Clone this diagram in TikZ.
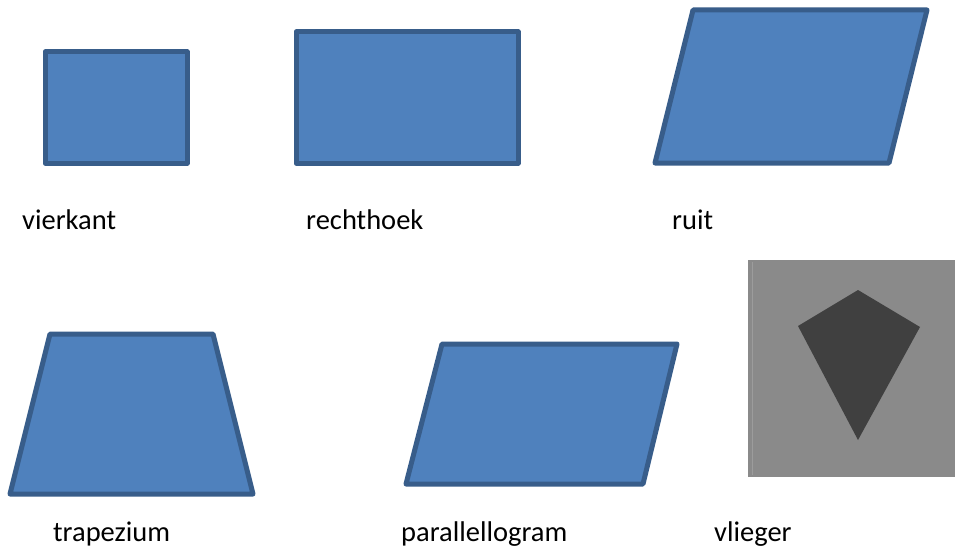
\documentclass[tikz,border=0pt]{standalone}
\usepackage{fontspec}
\setmainfont{Carlito}
\definecolor{shapefill}{HTML}{4F81BD}
\definecolor{shapeline}{HTML}{385D8A}
\definecolor{photobg}{HTML}{8A8A8A}
\definecolor{kitefill}{HTML}{404040}
\tikzset{
  shapebox/.style={fill=shapefill, draw=shapeline, line width=5pt, line join=round},
  lbl/.style={anchor=base west, inner sep=0pt, font=\fontsize{28.5}{34}\selectfont, text=black}
}
\begin{document}
\begin{tikzpicture}[x=1pt,y=-1pt]
\useasboundingbox[fill=white] (0,0) rectangle (955,551);
% vierkant
\draw[shapebox] (45,52) rectangle (187,163);
% rechthoek
\draw[shapebox] (296,32) rectangle (518,163);
% ruit
\draw[shapebox] (693,10) -- (927,10) -- (889,163) -- (655,163) -- cycle;
% trapezium
\draw[shapebox] (50,334) -- (213,334) -- (253,494) -- (10,494) -- cycle;
% parallellogram
\draw[shapebox] (442,344) -- (677,344) -- (643,484) -- (406,484) -- cycle;
% vlieger (photo)
\fill[photobg] (748,260) rectangle (955,477);
\draw[color=photobg!85!white, line width=1pt] (752,262) -- (752,475);
\fill[kitefill] (858,290) -- (920,327) -- (858,440) -- (798,326) -- cycle;
% labels
\node[lbl] (lvierkant) at (22,229) {vierkant};
\node[lbl] (lrechthoek) at (306,229) {rechthoek};
\node[lbl] (lruit) at (672,229) {ruit};
\node[lbl] (ltrapezium) at (53,541) {trapezium};
\node[lbl] (lparallellogram) at (401,541) {parallellogram};
\node[lbl] (lvlieger) at (714,541) {vlieger};
\end{tikzpicture}
\end{document}
